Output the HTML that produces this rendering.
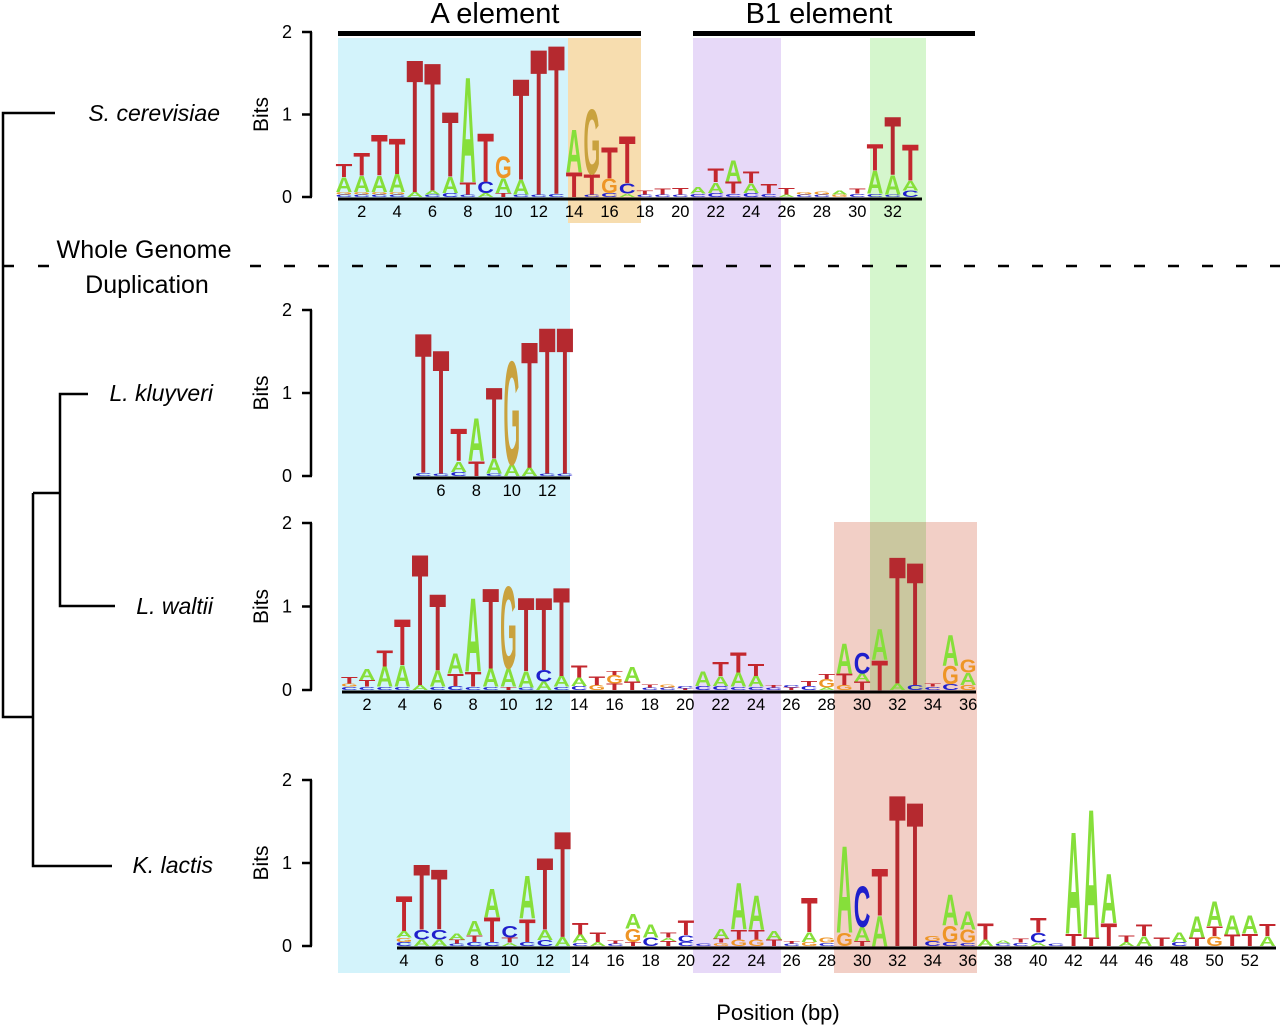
<!DOCTYPE html>
<html><head><meta charset="utf-8"><style>
html,body{margin:0;padding:0;background:#fff;}
svg{display:block;font-family:"Liberation Sans",sans-serif;}
</style></head><body>
<svg id="fig" width="1280" height="1027" viewBox="0 0 1280 1027" xmlns="http://www.w3.org/2000/svg">
<g id="shades">
 <rect x="338" y="38" width="232" height="935" fill="#d3f3fb"/>
 <rect x="568" y="38" width="73" height="185" fill="#f7ddaf"/>
 <rect x="693" y="38" width="88" height="935" fill="#e7d9f8"/>
 <rect x="870" y="38" width="56" height="652" fill="#d5f6cd" style="mix-blend-mode:multiply"/>
 <rect x="834" y="522" width="143" height="451" fill="#f2cfc6" style="mix-blend-mode:multiply"/>
</g>
<g>
 <text x="495" y="23" font-size="29" text-anchor="middle">A element</text>
 <rect x="338" y="31" width="303" height="5" fill="#000"/>
 <text x="819" y="23" font-size="29" text-anchor="middle">B1 element</text>
 <rect x="693" y="31" width="282" height="5" fill="#000"/>
</g>
<g stroke="#000" stroke-width="2.5" fill="none">
 <path d="M55 113 H3 V717 H33"/>
 <path d="M33 493 V866 H112"/>
 <path d="M33 493 H60"/>
 <path d="M88 394 H60 V606 H115"/>
</g>
<g font-size="23" font-style="italic" text-anchor="end">
 <text x="220" y="121">S. cerevisiae</text>
 <text x="213" y="401">L. kluyveri</text>
 <text x="213" y="614">L. waltii</text>
 <text x="213" y="873">K. lactis</text>
</g>
<g>
 <text x="144" y="258" font-size="25" text-anchor="middle" textLength="175">Whole Genome</text>
 <text x="147" y="293" font-size="25" text-anchor="middle">Duplication</text>
 <line x1="3" y1="266" x2="60" y2="266" stroke="#000" stroke-width="2.5" stroke-dasharray="11 24"/>
 <line x1="250" y1="266" x2="1280" y2="266" stroke="#000" stroke-width="2.5" stroke-dasharray="11 23"/>
</g>
<text x="778" y="1020" font-size="22" text-anchor="middle">Position (bp)</text>
<g id="logos"></g>
</svg>
<script>
// Panel data: stacks per position, bottom-to-top "Letter:bits"
const p1Start = 1;
const p1Stacks = ["C.03 G.03 A.18 T.16","C.03 G.03 A.2 T.28","C.03 G.03 A.2 T.5","C.03 G.03 A.22 T.44","A.06 T1.64","C.03 A.05 T1.58","C.05 A.2 T.8","C.03 T.15 A1.3","A.05 C.14 T.6","T.05 A.18 G.27","C.03 A.18 T1.25","C.03 T1.8","C.04 T1.84","T.3 A.53","C.03 T.25 G.8","C.05 G.18 T.38","A.04 C.13 T.58","C.03 T.05","C.03 T.07","C.03 T.08","C.04 A.08","C.05 A.13 T.17","C.04 T.15 A.26","C.05 A.12 T.14","C.04 T.12","A.03 T.08","C.03 G.03","C.03 G.04","G.03 A.05","C.04 T.06","C.04 A.28 T.33","C.03 A.24 T.72","C.08 A.12 T.45"];
const p2Start = 5;
const p2Stacks = ["C.04 T1.72","C.03 T1.52","C.05 A.13 T.4","T.18 A.52","C.03 A.18 T.87","A.14 G1.27","A.1 T1.55","C.03 T1.8","C.03 T1.8"];
const p3Start = 1;
const p3Stacks = ["C.04 G.04 T.08","C.04 T.08 A.13","C.04 A.24 T.2","C.04 A.26 T.56","A.06 T1.6","C.04 A.2 T.93","C.05 T.15 A.24","C.04 T.18 A.9","C.04 A.22 T.98","T.04 A.22 G1.0","C.03 A.2 T.9","A.1 C.14 T.88","C.04 A.13 T1.08","C.05 A.1 T.15","G.06 T.1","T.08 G.1 T.05","T.1 A.18","C.03 T.04","C.03 G.04","T.02 C.03","C.05 A.18","C.05 A.12 T.17","C.04 A.17 T.24","C.04 A.13 T.15","C.03 T.03","T.03 C.03","C.05 T.06","A.03 G.1 T.06","G.06 T.14 A.37","T.1 A.1 C.25","T.36 A.38","A.08 T1.55","C.06 T1.5","C.04 T.04","C.07 G.22 A.38","G.06 A.15 G.16"];
const p4Start = 4;
const p4Stacks = ["C.05 G.05 A.08 T.43","A.08 C.12 T.8","A.08 C.12 T.74","C.03 T.05 A.07","C.05 T.08 A.17","C.05 T.3 A.35","A.04 T.06 C.14","C.05 T.28 A.52","C.07 A.13 T.88","A.11 T1.3","C.04 A.1 T.14","A.05 T.12","C.03 T.04","T.05 G.16 A.18","C.1 A.16","T.06 A.04 T.06","C.05 C.08 T.18","C.03","G.04 T.05 A.12","G.08 T.12 A.57","G.08 T.12 A.42","T.08 A.1","C.03 T.03","G.05 A.12 T.42","C.04 G.06","G.16 A1.06","T.06 A.17 C.5","A.37 T.58","T1.86","T1.77","C.06 G.06","C.05 G.2 A.38","C.04 G.16 A.22","A.08 T.2","C.03 A.04","C.04 T.05","A.04 C.12 T.18","C.03","T.15 A1.25","T.1 A1.58","T.28 A.6","A.05 T.08","A.12 T.14","T.1","C.05 A.12","T.1 A.26","G.12 T.12 A.3","T.14 A.24","T.15 A.22","A.12 T.15"];

const COLORS = {A:"#86df3a", C:"#1f1fcc", G:"#ee9526", T:"#c3272e"};
const ADV = {A:0.722, C:0.722, G:0.778, T:0.611};
const panels = [
 {name:"s-cerevisiae", start:p1Start, stacks:p1Stacks, zero:197, two:32, c0:344, step:17.7, lineX1:338, lineX2:922, labelFrom:2, labelTo:32},
 {name:"l-kluyveri", start:p2Start, stacks:p2Stacks, zero:476, two:310, c0:441-17.7, step:17.7, lineX1:413, lineX2:570, labelFrom:6, labelTo:12},
 {name:"l-waltii", start:p3Start, stacks:p3Stacks, zero:690, two:523, c0:367-17.68, step:17.68, lineX1:342, lineX2:976, labelFrom:2, labelTo:36},
 {name:"k-lactis", start:p4Start, stacks:p4Stacks, zero:946, two:780, c0:404, step:17.62, lineX1:397, lineX2:1276, labelFrom:4, labelTo:52}
];
const NS = "http://www.w3.org/2000/svg";
const root = document.getElementById("logos");
function mk(tag, attrs, parent){const e=document.createElementNS(NS,tag);for(const k in attrs)e.setAttribute(k,attrs[k]);parent.appendChild(e);return e;}

panels.forEach(p=>{
  const g = mk("g",{},root);
  
  
  const yScale = b => p.zero - b*(p.zero-p.two)/2;
  const xScale = pos => p.c0 + (pos-p.start)*p.step;
  const ax = mk("g",{},g);
  
  
  mk("line",{x1:311,y1:yScale(2),x2:311,y2:yScale(0),stroke:"#000","stroke-width":2.5},ax);
  [0,1,2].forEach(t=>{
    mk("line",{x1:302,y1:yScale(t),x2:312,y2:yScale(t),stroke:"#000","stroke-width":2.5},ax);
    const tl = mk("text",{x:287,y:yScale(t)+6,"font-size":18,"text-anchor":"middle"},ax);
    tl.textContent = String(t);
    
    
  });
  const bt = mk("text",{x:0,y:0,"font-size":21,"text-anchor":"middle",transform:`translate(268,${yScale(1)}) rotate(-90)`},ax);
  bt.textContent = "Bits";
  
  
  p.stacks.forEach((s,i)=>{
    const pos = p.start+i;
    const cx = xScale(pos);
    let acc = 0;
    s.split(" ").forEach(tok=>{
      const L = tok[0], v = parseFloat(tok.slice(1));
      const yb = yScale(acc), yt = yScale(acc+v);
      acc += v;
      const h = yb - yt;
      const w = p.step - 1;
      const sx = w/(ADV[L]*100), sy = h/71;
      let col = COLORS[L];
      if (L==="G" && v>0.7) col = "#c9a23e";
      if (L==="T" && v>0.7) col = "#b5292f";
      const t = mk("text",{x:0,y:0,"font-size":100,"font-weight":"bold","text-anchor":"middle",fill:col,transform:`translate(${cx},${yb}) scale(${sx},${sy})`},g);
      t.textContent = L;
      
      
    });
  });
  const bl = mk("line",{x1:p.lineX1,y1:p.zero+2,x2:p.lineX2,y2:p.zero+2,stroke:"#000","stroke-width":3},g);
  
  
  for(let pos=p.labelFrom; pos<=p.labelTo; pos+=2){
    const tl = mk("text",{x:xScale(pos),y:p.zero+20,"font-size":16.5,"text-anchor":"middle"},g);
    tl.textContent = String(pos);
    
    
  }
});
</script>
</body></html>
